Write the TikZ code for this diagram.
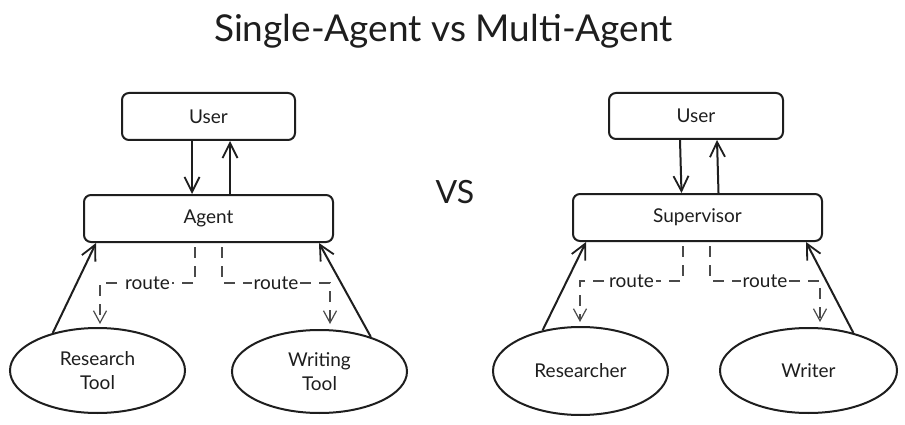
\documentclass[tikz,border=0pt]{standalone}
\usepackage{fontspec}
\setmainfont{Lato}
\usetikzlibrary{arrows.meta,shapes.geometric}
\definecolor{ink}{HTML}{1E1E1E}
\definecolor{dashink}{HTML}{4A4A4A}
\begin{document}
\begin{tikzpicture}[x=1pt,y=-1pt,
  box/.style={draw=ink, rounded corners=7pt, line width=2pt, inner sep=0pt,
    text=ink, font=\fontsize{19}{21}\selectfont},
  ell/.style={draw=ink, ellipse, line width=2pt, inner sep=0pt, align=center,
    text=ink, font=\fontsize{19}{24}\selectfont},
  arr/.style={draw=ink, line width=2pt, -{Straight Barb[length=15pt,width=15pt,line width=1.8pt]}},
  dsh/.style={draw=dashink, line width=1.4pt, dash pattern=on 11pt off 8pt,
    -{Straight Barb[length=12pt,width=13pt,line width=1.2pt]}},
  lbl/.style={fill=white, inner sep=2pt, text=ink, font=\fontsize{19}{21}\selectfont},
  ttl/.style={text=ink, anchor=base}
]
\useasboundingbox (0,0) rectangle (905,425);
\fill[white] (0,0) rectangle (905,425);

\node[ttl, font=\fontsize{37}{40}\selectfont] (title) at (443.5,42) {Single-Agent vs Multi-Agent};
\node[ttl, font=\fontsize{32}{35}\selectfont] (vs) at (455,203) {VS};

% left
\node[box, minimum width=173pt, minimum height=47pt] (u1) at (208.5,116.5) {User};
\node[box, minimum width=249pt, minimum height=47pt] (a1) at (208.5,218.5) {Agent};
\node[ell, minimum width=175pt, minimum height=85pt] (rt) at (97.5,370.5) {Research\\Tool};
\node[ell, minimum width=175pt, minimum height=83pt] (wt) at (319.5,371.5) {Writing\\Tool};

\draw[arr] ([xshift=-16.5pt]u1.south) -- ([xshift=-16.5pt]a1.north);
\draw[arr] ([xshift=21.5pt]a1.north) -- ([xshift=21.5pt]u1.south);
\draw[arr] (rt.140) -- ([xshift=13pt]a1.south west);
\draw[arr] (wt.34) -- ([xshift=-15pt]a1.south east);
\draw[dsh] ([shift={(-13.5,4)}]a1.south) -- ++(0,36) -| node[lbl, pos=0.25] {route} ([shift={(2.5,-3)}]rt.north);
\draw[dsh] ([shift={(13.5,4)}]a1.south) -- ++(0,36) -| node[lbl, pos=0.25] {route} ([shift={(10.5,-5)}]wt.north);

% right
\node[box, minimum width=174pt, minimum height=46pt] (u2) at (696,116) {User};
\node[box, minimum width=249pt, minimum height=47pt] (sv) at (697.5,217.5) {Supervisor};
\node[ell, minimum width=175pt, minimum height=88pt] (rs) at (580.5,371) {Researcher};
\node[ell, minimum width=177pt, minimum height=85pt] (wr) at (808.5,370.5) {Writer};

\draw[arr] ([xshift=-16pt]u2.south) -- ([xshift=-16pt]sv.north);
\draw[arr] ([xshift=21pt]sv.north) -- ([xshift=21pt]u2.south);
\draw[arr] (rs.133) -- ([xshift=14pt]sv.south west);
\draw[arr] (wr.40) -- ([xshift=-17pt]sv.south east);
\draw[dsh] ([shift={(-14.5,4)}]sv.south) -- ++(0,35) -| node[lbl, pos=0.25] {route} ([shift={(-0.5,-4)}]rs.north);
\draw[dsh] ([shift={(12.5,4)}]sv.south) -- ++(0,35) -| node[lbl, pos=0.25] {route} ([shift={(11.5,-5)}]wr.north);
\end{tikzpicture}
\end{document}
